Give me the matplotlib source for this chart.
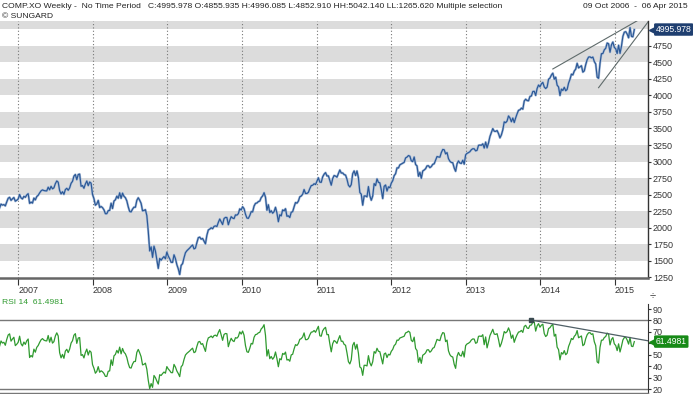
import matplotlib
matplotlib.use('Agg')
import matplotlib.pyplot as plt
import matplotlib.transforms as mtransforms
import numpy as np
import pandas as pd

plt.rcParams['font.family'] = ['Liberation Sans', 'DejaVu Sans']

# ---------------- data (weekly closes, COMP.XO) ----------------
# warm-up weeks (Apr-Oct 2006) used only for the RSI; they fall left of the visible range
warmup_2006 = [2339, 2326, 2342, 2322, 2343, 2243, 2193, 2210, 2219, 2135, 2130, 2121, 2172,
               2130, 2037, 2020, 2094, 2085, 2057, 2163, 2141, 2184, 2165, 2235, 2218, 2258, 2300]
closes_2006 = [2357, 2342, 2350, 2330, 2390, 2445, 2460, 2413, 2437, 2457, 2401, 2415]
closes_2007 = [2434, 2502, 2451, 2435, 2475, 2459, 2496, 2515, 2368, 2387, 2372, 2448, 2421,
               2471, 2491, 2526, 2557, 2572, 2562, 2558, 2557, 2613, 2573, 2626, 2588, 2603,
               2666, 2707, 2688, 2562, 2511, 2544, 2505, 2576, 2596, 2566, 2602, 2671, 2701,
               2780, 2805, 2726, 2804, 2811, 2627, 2637, 2596, 2661, 2706, 2636, 2691, 2674]
closes_2008 = [2504, 2440, 2340, 2360, 2413, 2305, 2321, 2303, 2271, 2212, 2212, 2258, 2261,
               2370, 2290, 2403, 2422, 2477, 2445, 2528, 2444, 2523, 2475, 2454, 2406, 2316,
               2245, 2239, 2282, 2310, 2310, 2414, 2453, 2415, 2368, 2255, 2261, 2273, 2183,
               1947, 1649, 1711, 1552, 1721, 1647, 1516, 1385, 1536, 1509, 1540, 1564, 1530]
closes_2009 = [1632, 1571, 1530, 1477, 1476, 1591, 1534, 1441, 1378, 1293, 1431, 1457, 1545,
               1622, 1652, 1673, 1694, 1719, 1739, 1680, 1692, 1774, 1849, 1858, 1827, 1838,
               1797, 1756, 1886, 1966, 1979, 2000, 1985, 2020, 2028, 2019, 2080, 2132, 2090,
               2048, 2139, 2156, 2154, 2045, 2112, 2167, 2146, 2138, 2194, 2190, 2212, 2285, 2269]
closes_2010 = [2317, 2288, 2205, 2147, 2141, 2184, 2243, 2238, 2327, 2368, 2374, 2395, 2403,
               2455, 2481, 2530, 2461, 2265, 2347, 2229, 2257, 2219, 2243, 2309, 2223, 2091,
               2196, 2179, 2269, 2255, 2288, 2173, 2180, 2154, 2234, 2242, 2315, 2381, 2371,
               2402, 2468, 2479, 2507, 2578, 2518, 2518, 2535, 2591, 2637, 2642, 2665, 2653]
closes_2011 = [2703, 2755, 2689, 2686, 2769, 2809, 2833, 2782, 2784, 2715, 2643, 2743, 2789,
               2780, 2764, 2820, 2873, 2827, 2828, 2803, 2796, 2733, 2643, 2616, 2652, 2816,
               2859, 2789, 2858, 2756, 2532, 2507, 2341, 2480, 2480, 2467, 2622, 2483, 2415,
               2479, 2667, 2637, 2738, 2686, 2678, 2573, 2441, 2626, 2646, 2555, 2618, 2605]
closes_2012 = [2674, 2711, 2787, 2816, 2905, 2903, 2951, 2963, 2976, 2988, 3055, 3068, 3091,
               3081, 3011, 3000, 3069, 2956, 2934, 2778, 2838, 2747, 2858, 2872, 2892, 2935,
               2937, 2908, 2925, 2958, 2967, 3020, 3076, 3070, 3066, 3136, 3183, 3179, 3116,
               3136, 3044, 3005, 2987, 2982, 2904, 2853, 2967, 3010, 2978, 2971, 3021, 2961]
closes_2013 = [3101, 3125, 3135, 3150, 3179, 3194, 3193, 3162, 3170, 3245, 3249, 3246, 3268,
               3204, 3294, 3207, 3280, 3378, 3437, 3499, 3459, 3456, 3469, 3423, 3358, 3403,
               3479, 3600, 3588, 3613, 3690, 3660, 3602, 3658, 3590, 3660, 3722, 3775, 3782,
               3808, 3792, 3915, 3943, 3922, 3919, 3985, 3991, 4060, 4062, 4000, 4104, 4157]
closes_2014 = [4131, 4175, 4197, 4128, 4104, 4126, 4244, 4263, 4308, 4336, 4245, 4276, 4155,
               4128, 3999, 4095, 4075, 4123, 4071, 4090, 4185, 4243, 4321, 4310, 4368, 4398,
               4486, 4416, 4432, 4449, 4352, 4371, 4465, 4539, 4580, 4583, 4568, 4580, 4512,
               4475, 4277, 4258, 4484, 4631, 4633, 4689, 4713, 4792, 4781, 4653, 4765, 4807]
closes_2015 = [4727, 4704, 4634, 4758, 4635, 4744, 4893, 4956, 4964, 4927, 4871, 5026, 4892,
               4886, 4995.978]

first_week = '2006-04-03'
view_start, view_end = '2006-10-04', '2015-06-12'
year_ticks = [2007, 2008, 2009, 2010, 2011, 2012, 2013, 2014, 2015]
price_ticks = [1250, 1500, 1750, 2000, 2250, 2500, 2750, 3000, 3250, 3500, 3750, 4000, 4250, 4500, 4750]
band_starts = [1500, 2000, 2500, 3000, 3500, 4000, 4500, 5000]
band_height = 250
rsi_ticks = [20, 30, 40, 50, 60, 70, 80, 90]
rsi_levels = [80, 20]
rsi_period = 14
rsi_last_label = 61.4981

# trend lines drawn on the chart (date, value)
upper_trend = (['2014-03-03', '2015-06-12'], [4400, 5222])
lower_trend = (['2014-10-13', '2015-06-12'], [4117, 5110])
rsi_trend = (['2013-11-18', '2015-06-12'], [80.3, 62.2])

header = ("COMP.XO Weekly -  No Time Period   C:4995.978 O:4855.935 H:4996.085 "
          "L:4852.910 HH:5042.140 LL:1265.620 Multiple selection")
date_range_txt = "09 Oct 2006  -  06 Apr 2015"

# ---------------- prep ----------------
closes = np.array(warmup_2006 + closes_2006 + closes_2007 + closes_2008 + closes_2009 +
                  closes_2010 + closes_2011 + closes_2012 + closes_2013 + closes_2014 +
                  closes_2015, dtype=float)
dates = pd.date_range(first_week, periods=len(closes), freq='W-MON')

s = pd.Series(closes)
d = s.diff()
ag = d.clip(lower=0).ewm(alpha=1 / rsi_period, adjust=False).mean()
al = (-d.clip(upper=0)).ewm(alpha=1 / rsi_period, adjust=False).mean()
rsi = 100 - 100 / (1 + ag / al)

W, H = 693, 394
fig = plt.figure(figsize=(W / 100, H / 100), dpi=100)
fig.patch.set_facecolor('white')

ax = fig.add_axes([0, 1 - 278 / H, 648 / W, (278 - 21) / H])
ax2 = fig.add_axes([0, 1 - 393 / H, 648 / W, (393 - 304) / H])

xl = (pd.Timestamp(view_start), pd.Timestamp(view_end))

# ---- main price panel ----
for b in band_starts:
    ax.axhspan(b, b + band_height, color='#dcdcdc', lw=0, zorder=0)
ax.plot(dates, closes, color='#a9bdd9', lw=1.7, zorder=2)
ax.plot(dates, closes, color='#2b5896', lw=0.85, zorder=3)
ax.plot(pd.to_datetime(upper_trend[0]), upper_trend[1], color='#5f6b6b', lw=0.8, zorder=4)
ax.plot(pd.to_datetime(lower_trend[0]), lower_trend[1], color='#5f6b6b', lw=0.8, zorder=4)

ax.set_xlim(*xl)
ax.set_ylim(1240, 5125)
ax.yaxis.tick_right()
ax.set_yticks(price_ticks)
ax.set_yticklabels([str(t) for t in price_ticks])
ax.tick_params(axis='y', labelsize=6.5, length=2, pad=1.5, colors='#333333')
ax.set_xticks([pd.Timestamp(f'{y}-01-01') for y in year_ticks])
ax.set_xticklabels([str(y) for y in year_ticks], ha='left')
ax.tick_params(axis='x', labelsize=6.5, length=5, pad=1.0, colors='#333333', direction='out')
ax.grid(axis='x', linestyle=(0, (1, 2)), color='#777777', lw=0.8, zorder=1)
ax.set_axisbelow(True)
for sp in ['top', 'left']:
    ax.spines[sp].set_visible(False)
ax.spines['bottom'].set_color('#666666')
ax.spines['bottom'].set_linewidth(1.8)
ax.spines['right'].set_color('#333333')
ax.spines['right'].set_linewidth(1.0)

trans = mtransforms.blended_transform_factory(ax.transAxes, ax.transData)
last_close = closes[-1]
ax.plot([1.0065], [last_close], marker='<', ms=4.5, color='#1f3f70', transform=trans,
        clip_on=False, zorder=6)
ax.text(1.012, last_close, f'{last_close:.3f}', transform=trans, ha='left', va='center',
        color='white', fontsize=6.2,
        bbox=dict(boxstyle='round,pad=0.2,rounding_size=0.15', fc='#1f3f70', ec='none'),
        clip_on=False, zorder=6)

# ---- RSI panel ----
ax2.plot(dates, rsi, color='#2f9a2f', lw=0.9, zorder=3)
for lv in rsi_levels:
    ax2.axhline(lv, color='#777777', lw=1.0, zorder=2)
ax2.plot(pd.to_datetime(rsi_trend[0]), rsi_trend[1], color='#4f5f66', lw=0.9, zorder=4)
ax2.plot(pd.to_datetime(rsi_trend[0][:1]), rsi_trend[1][:1], marker='s', ms=2.5,
         color='#3a4a50', zorder=5)
ax2.set_xlim(*xl)
ax2.set_ylim(16.5, 94.4)
ax2.set_xticks([])
ax2.yaxis.tick_right()
ax2.set_yticks(rsi_ticks)
ax2.set_yticklabels([str(t) for t in rsi_ticks])
ax2.tick_params(axis='y', labelsize=6.5, length=2, pad=1.5, colors='#333333')
for sp in ['top', 'left']:
    ax2.spines[sp].set_visible(False)
ax2.spines['bottom'].set_color('#777777')
ax2.spines['bottom'].set_linewidth(1.0)
ax2.spines['right'].set_color('#333333')

trans2 = mtransforms.blended_transform_factory(ax2.transAxes, ax2.transData)
ax2.plot([1.0065], [rsi_last_label], marker='<', ms=4.5, color='#178a17', transform=trans2,
         clip_on=False, zorder=6)
ax2.text(1.012, rsi_last_label, f'{rsi_last_label:.4f}', transform=trans2, ha='left',
         va='center', color='white', fontsize=6.2,
         bbox=dict(boxstyle='round,pad=0.2,rounding_size=0.15', fc='#178a17', ec='none'),
         clip_on=False, zorder=6)

# ---- header texts ----
fig.text(2 / W, 1 - 6 / H, header, fontsize=6.1, color='#222222', ha='left', va='center')
fig.text(2 / W, 1 - 16 / H, '\u00a9 SUNGARD', fontsize=6.1, color='#222222', ha='left', va='center')
fig.text(688 / W, 1 - 6 / H, date_range_txt, fontsize=6.1, color='#222222', ha='right', va='center')
fig.text(2 / W, 1 - 302 / H, f'RSI {rsi_period}  {rsi_last_label:.4f}', fontsize=6.1,
         color='#2f9a2f', ha='left', va='center')
fig.text(653 / W, 1 - 296 / H, '\u00f7', fontsize=8, color='#333333', ha='center', va='center')

fig.savefig('out.png', dpi=100, facecolor='white')
